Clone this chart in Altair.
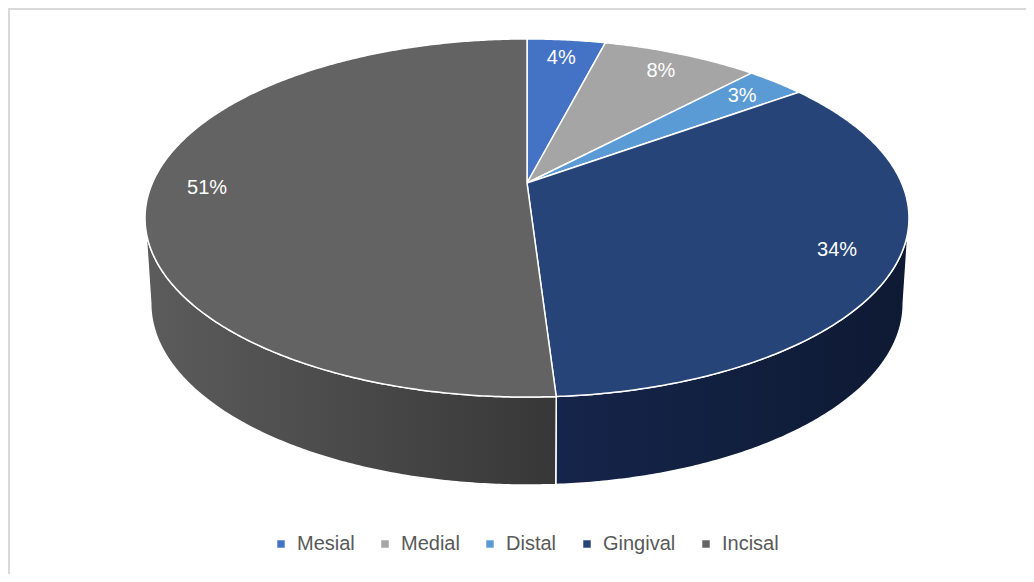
import math
import altair as alt
import pandas as pd

# ---- data ----
categories = ["Mesial", "Medial", "Distal", "Gingival", "Incisal"]
shares = [4, 8, 3, 34, 51]
label_texts = ["4%", "8%", "3%", "34%", "51%"]
top_colors = ["#4472C4", "#A5A5A5", "#5B9BD5", "#264478", "#636363"]
side_gradients = {
    "Gingival": ["#15244a", "#0e1a33"],
    "Incisal": ["#5c5c5c", "#373737"],
}

# ---- layout / 3-D perspective geometry (pixel space of the page) ----
W, H = 1018, 566
OX, OY = 8, 8
CX, CY = 527, 183          # projected pie centre
A, B, K = 374.6, 172.2, 0.1955
S_BOT = 0.985              # bottom rim slightly narrower
LABEL_R = 0.85


def proj(u, v):
    w = 1 + K * v
    return CX + A * u / w, CY - B * v / w


def top_pt(theta, r=1.0):
    t = math.radians(theta)
    return proj(r * math.sin(t), r * math.cos(t))


def bot_pt(theta):
    x, y = top_pt(theta)
    v = math.cos(math.radians(theta))
    return CX + (x - CX) * S_BOT, y + 85 - 3 * v


def arc(a, b, step=0.5):
    n = max(2, int(math.ceil((b - a) / step)) + 1)
    return [a + (b - a) * i / (n - 1) for i in range(n)]


total = sum(shares)
starts, ends = [], []
acc = 0.0
for s in shares:
    starts.append(acc / total * 360)
    acc += s
    ends.append(acc / total * 360)

# top face wedges
wedge_rows = []
for cat, a, b in zip(categories, starts, ends):
    pts = [(CX, CY)] + [top_pt(t) for t in arc(a, b)] + [(CX, CY)]
    for i, (x, y) in enumerate(pts):
        wedge_rows.append({"slice": cat, "i": i, "x": x, "y": y})
wedges = pd.DataFrame(wedge_rows)

# visible side walls (between the silhouette angles)
th_r = math.degrees(math.acos(-K))
th_l = 360 - th_r
side_rows = []
for cat, a, b in zip(categories, starts, ends):
    lo, hi = max(a, th_r), min(b, th_l)
    if hi <= lo:
        continue
    ts = arc(lo, hi)
    pts = [top_pt(t) for t in ts] + [bot_pt(t) for t in reversed(ts)] + [top_pt(ts[0])]
    for i, (x, y) in enumerate(pts):
        side_rows.append({"slice": cat, "i": i, "x": x, "y": y})
sides = pd.DataFrame(side_rows)

# data labels
lab_rows = []
for cat, txt, a, b in zip(categories, label_texts, starts, ends):
    x, y = top_pt((a + b) / 2, LABEL_R)
    lab_rows.append({"slice": cat, "label": txt, "x": x, "y": y})
labels = pd.DataFrame(lab_rows)

xs = alt.Scale(domain=[OX, OX + W], nice=False, zero=False)
ys = alt.Scale(domain=[OY, OY + H], nice=False, zero=False, reverse=True)
X = alt.X("x:Q", scale=xs, axis=None)
Y = alt.Y("y:Q", scale=ys, axis=None)

layers = []
for cat, (c0, c1) in side_gradients.items():
    layers.append(
        alt.Chart(sides)
        .transform_filter(alt.datum.slice == cat)
        .mark_line(
            fill=alt.Gradient(
                gradient="linear",
                stops=[alt.GradientStop(color=c0, offset=0), alt.GradientStop(color=c1, offset=1)],
                x1=0, x2=1, y1=0, y2=0,
            ),
            stroke="#ffffff",
            strokeWidth=1.5,
            strokeJoin="round",
        )
        .encode(x=X, y=Y, order="i:Q")
    )

top_layer = (
    alt.Chart(wedges)
    .mark_line(stroke="#ffffff", strokeWidth=1.5, strokeJoin="round")
    .encode(
        x=X,
        y=Y,
        order="i:Q",
        fill=alt.Fill(
            "slice:N",
            scale=alt.Scale(domain=categories, range=top_colors),
            legend=alt.Legend(
                title=None,
                orient="none",
                legendX=263,
                legendY=526,
                direction="horizontal",
                symbolType="square",
                symbolSize=56,
                symbolStrokeWidth=0,
                labelFont="Liberation Sans",
                labelFontSize=20,
                labelColor="#595959",
                labelOffset=6,
                columnPadding=20,
                padding=0,
            ),
        ),
    )
)
layers.append(top_layer)

text_layer = (
    alt.Chart(labels)
    .mark_text(font="Liberation Sans", fontSize=20, color="#ffffff", align="center", baseline="middle")
    .encode(x=X, y=Y, text="label:N")
)
layers.append(text_layer)

one = pd.DataFrame({"k": [0]})
border_top = alt.Chart(one).mark_rule(color="#d9d9d9", strokeWidth=2).encode(
    x=alt.value(0), x2=alt.value(W), y=alt.value(1)
)
border_left = alt.Chart(one).mark_rule(color="#d9d9d9", strokeWidth=2).encode(
    x=alt.value(1), y=alt.value(0), y2=alt.value(H)
)
layers += [border_top, border_left]

chart = (
    alt.layer(*layers)
    .properties(width=W, height=H, padding=0, autosize=alt.AutoSizeParams(type="none"))
    .configure_view(stroke=None)
)

chart.save("out.html", embed_options={"renderer": "svg", "actions": False})
